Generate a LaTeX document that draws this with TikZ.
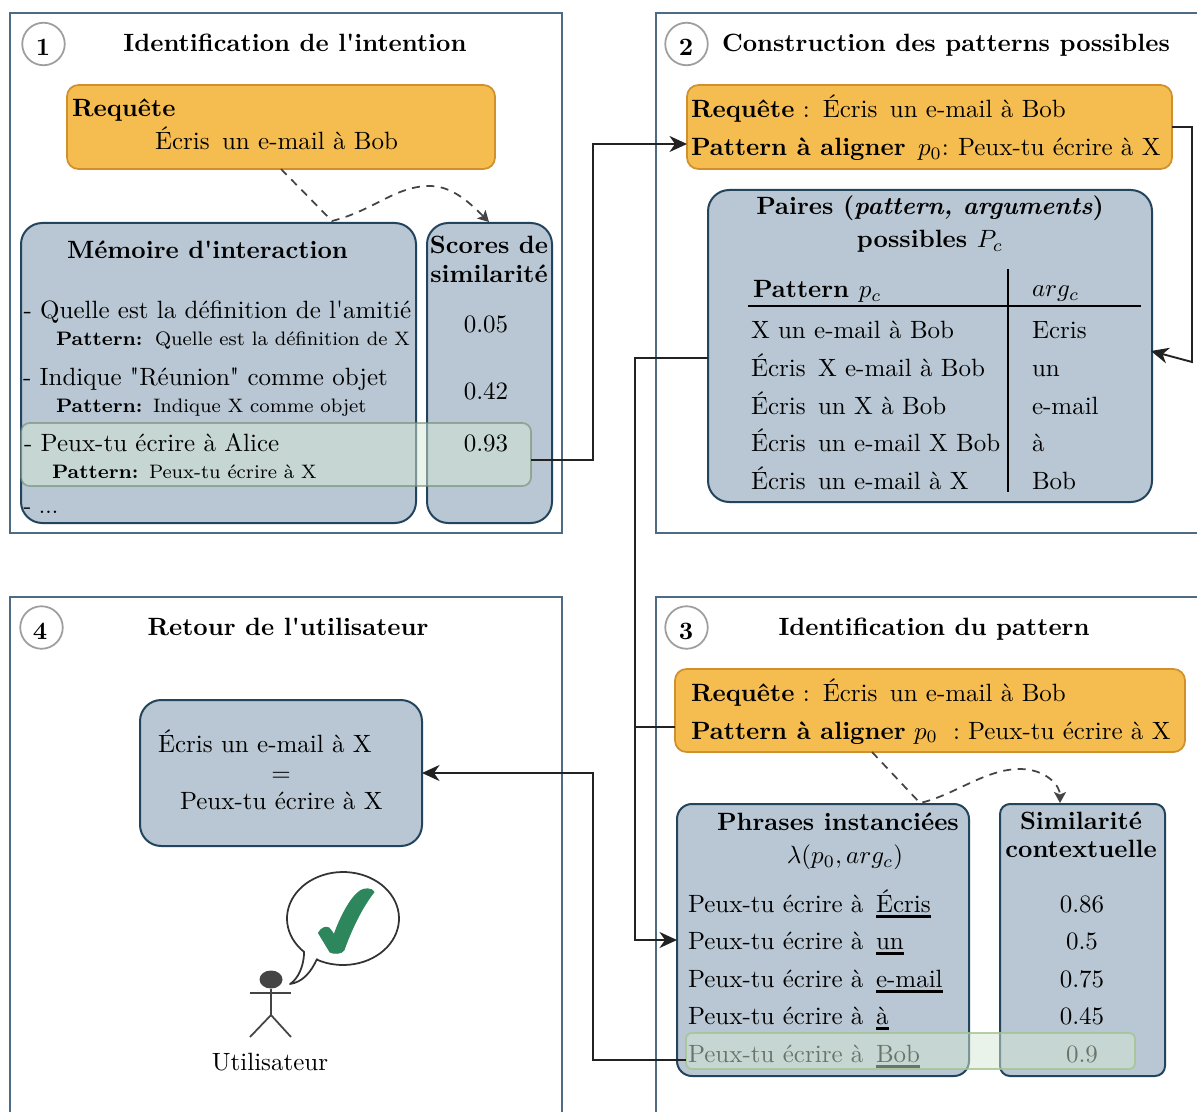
\documentclass[tikz,border=0pt]{standalone}
\usetikzlibrary{arrows.meta,shapes.geometric}
\definecolor{panelc}{HTML}{4F6B83}
\definecolor{orf}{HTML}{F5BD50}
\definecolor{ord}{HTML}{D1902C}
\definecolor{blf}{HTML}{B8C7D3}
\definecolor{bld}{HTML}{23445D}
\definecolor{grayc}{HTML}{9E9E9E}
\definecolor{lnc}{HTML}{222222}
\definecolor{dsh}{HTML}{444444}
\definecolor{gnf}{HTML}{D5E8D4}
\definecolor{chk}{HTML}{2E865C}
\definecolor{ovad}{HTML}{6F8A70}
\definecolor{ovbd}{HTML}{A3C490}
\newcommand{\boxn}[6]{%
  \pgfmathsetmacro\bxcx{(#3+#5)/2}\pgfmathsetmacro\bxcy{(#4+#6)/2}%
  \pgfmathsetmacro\bxw{(#5-#3)*0.4}\pgfmathsetmacro\bxh{(#6-#4)*0.4}%
  \node[#2,minimum width=\bxw pt,minimum height=\bxh pt] (#1) at (\bxcx,\bxcy) {};}
\newcommand{\tl}[4]{\node[txl] (#1) at (#2,#3) {#4};}
\newcommand{\tc}[4]{\node[txc] (#1) at (#2,#3) {#4};}
\newcommand{\ul}[1]{\setbox0\hbox{#1}\rlap{\vrule width\wd0 height -1.3pt depth 2.2pt}\box0}
\newcommand{\gp}{\kern1.6pt}
\newcommand{\aq}{\textquotesingle}
\newcommand{\dq}{\textquotedbl}
\newcommand{\smalltxt}{\fontsize{7.8}{9}\selectfont}
\tikzset{
  basebox/.style={inner sep=0pt,outer sep=0pt},
  panel/.style={basebox,rectangle,draw=panelc,line width=0.8pt,fill=white},
  orangebox/.style={basebox,rectangle,rounded corners=4.6pt,draw=ord,line width=0.7pt,fill=orf},
  bluebox/.style={basebox,rectangle,rounded corners=8.5pt,draw=bld,line width=0.8pt,fill=blf},
  blueboxs/.style={basebox,rectangle,rounded corners=6pt,draw=bld,line width=0.8pt,fill=blf},
  blueboxt/.style={basebox,rectangle,rounded corners=4pt,draw=bld,line width=0.8pt,fill=blf},
  overa/.style={basebox,rectangle,rounded corners=3.5pt,draw=ovad,draw opacity=.6,line width=0.7pt,fill=gnf,fill opacity=.5},
  overb/.style={basebox,rectangle,rounded corners=2.4pt,draw=ovbd,draw opacity=.8,line width=0.7pt,fill=gnf,fill opacity=.5},
  stepc/.style={circle,draw=grayc,fill=white,line width=0.7pt,inner sep=0pt,outer sep=0pt,minimum size=17pt},
  txl/.style={inner sep=0pt,outer sep=0pt,anchor=base west},
  txc/.style={inner sep=0pt,outer sep=0pt,anchor=base},
  link/.style={draw=lnc,line width=0.75pt},
  linka/.style={link,-{Stealth[length=7pt,width=6.4pt,inset=2.2pt]}},
  dlink/.style={draw=dsh,line width=0.7pt,dash pattern=on 3.2pt off 2.6pt,-{Stealth[length=4.4pt,width=4.8pt,inset=1pt]}},
}
\begin{document}
\begin{tikzpicture}[x=0.4pt,y=-0.4pt]
\useasboundingbox (0,0) rectangle (1197,1111);
\clip (0,0) rectangle (1197,1111);
% panels
\boxn{p1}{panel}{10}{13}{562}{533}
\boxn{p2}{panel}{656}{13}{1240}{533}
\boxn{p3}{panel}{656}{597}{1240}{1150}
\boxn{p4}{panel}{10}{597}{562}{1150}
\node[stepc] (n1) at (43.5,44) {};
\node[stepc] (n2) at (686.5,44) {};
\node[stepc] (n3) at (686.5,627.5) {};
\node[stepc] (n4) at (41.5,627.5) {};
\tc{s1}{43}{56}{\bfseries 1}
\tc{s2}{686}{56}{\bfseries 2}
\tc{s3}{686}{639}{\bfseries 3}
\tc{s4}{40}{639}{\bfseries 4}
\tc{ti1}{295}{52}{\bfseries Identification de l\aq intention}
\tl{ti2}{722}{52}{\bfseries Construction des patterns possibles}
\tc{ti3}{934}{635}{\bfseries Identification du pattern}
\tc{ti4}{288}{635}{\bfseries Retour de l\aq utilisateur}
% panel 1
\boxn{o1}{orangebox}{67}{85}{495}{169}
\tl{o1a}{72}{117}{\bfseries Requête}
\tl{o1b}{155}{150}{Écris\gp{} un e-mail à Bob}
\boxn{mem}{bluebox}{21}{223}{416}{523}
\boxn{sco}{bluebox}{427}{223}{552}{523}
\coordinate (d1a) at (281,169);
\coordinate (d1b) at (332,221);
\coordinate (d1c) at (489,222);
\draw[dlink] (d1a) -- (d1b) .. controls (375,210) and (395,186) .. (430,186) .. controls (452,186) and (470,203) .. (d1c);
\tl{m0}{67}{259}{\bfseries Mémoire d\aq interaction}
\tc{sc1}{489}{254}{\bfseries Scores de}
\tc{sc2}{489}{283}{\bfseries similarité}
\tl{m1}{23.5}{319}{- Quelle est la définition de l\aq amitié}
\tl{m1p}{56}{345.5}{\smalltxt\bfseries Pattern:}
\tl{m1q}{155}{345.5}{\smalltxt Quelle est la définition de X}
\tl{m2}{23}{385.5}{- Indique \dq Réunion\dq{} comme objet}
\tl{m2p}{56}{412.5}{\smalltxt\bfseries Pattern:}
\tl{m2q}{153}{412.5}{\smalltxt Indique X comme objet}
\tc{v1}{486}{332}{0.05}
\tc{v2}{486}{399}{0.42}
\boxn{g1}{overa}{21}{423}{531}{486}
\tl{m3}{24}{451}{- Peux-tu écrire à Alice}
\tl{m3p}{52}{478}{\smalltxt\bfseries Pattern:}
\tl{m3q}{149}{478}{\smalltxt Peux-tu écrire à X}
\tl{m4}{23.5}{513}{\small - ...}
\tc{v3}{486}{451}{0.93}
% panel 2
\boxn{o2}{orangebox}{687}{85}{1172}{169}
\tl{o2a}{691}{118}{\bfseries Requête\mdseries{} : \kern.8pt Écris\gp{} un e-mail à Bob}
\tl{o2b}{691}{156}{\bfseries Pattern à aligner}
\tl{o2c}{918}{156}{$p_0$:}
\tl{o2d}{958}{156}{Peux-tu écrire à X}
\boxn{pa}{bluebox}{708}{190}{1152}{502}
\tc{pa1}{930}{215}{\bfseries Paires (\textit{pattern, arguments})}
\tc{pa2}{930}{248}{\bfseries possibles $P_c$}
\coordinate (vt) at (1008,269);
\coordinate (vb) at (1008,492);
\coordinate (hl) at (748,306);
\coordinate (hr) at (1141,306);
\draw[black,line width=0.7pt] (vt) -- (vb);
\draw[black,line width=0.7pt] (hl) -- (hr);
\tl{th1}{753}{298}{\bfseries Pattern \mdseries$p_c$}
\tl{th2}{1032}{297}{$arg_c$}
\tl{r1}{751}{339}{X un e-mail à Bob}
\tl{r2}{751}{377}{Écris\gp{} X e-mail à Bob}
\tl{r3}{751}{414}{Écris\gp{} un X à Bob}
\tl{r4}{751}{451}{Écris\gp{} un e-mail X Bob}
\tl{r5}{751}{489}{Écris\gp{} un e-mail à X}
\tl{a1}{1032}{339}{Ecris}
\tl{a2}{1032}{377}{un}
\tl{a3}{1032}{414}{e-mail}
\tl{a4}{1032}{451}{à}
\tl{a5}{1032}{489}{Bob}
% panel 3
\boxn{o3}{orangebox}{675}{669}{1185}{752}
\tl{o3a}{691}{701}{\bfseries Requête\mdseries{} : \kern.8pt Écris\gp{} un e-mail à Bob}
\tl{o3b}{691}{739}{\bfseries Pattern à aligner}
\tl{o3c}{914}{739}{$p_0$}
\tl{o3d}{953}{739}{:}
\tl{o3e}{968}{739}{Peux-tu écrire à X}
\boxn{ph}{blueboxs}{677}{804}{969}{1076}
\boxn{si}{blueboxt}{1000}{804}{1165}{1076}
\coordinate (d3a) at (872,752);
\coordinate (d3b) at (920,803);
\coordinate (d3c) at (1060,803);
\draw[dlink] (d3a) -- (d3b) .. controls (955,795) and (985,769) .. (1020,769) .. controls (1045,769) and (1060,785) .. (d3c);
\tl{ph1}{717}{830.5}{\bfseries Phrases instanciées}
\tc{ph2}{845}{863.5}{$\lambda(p_0, arg_c)$}
\tc{si1}{1081}{829}{\bfseries Similarité}
\tc{si2}{1081}{857}{\bfseries contextuelle}
\tl{q1}{688}{912}{Peux-tu écrire à}
\tl{q2}{688}{949}{Peux-tu écrire à}
\tl{q3}{688}{987}{Peux-tu écrire à}
\tl{q4}{688}{1024}{Peux-tu écrire à}
\tl{q5}{688}{1062}{Peux-tu écrire à}
\tl{u1}{876}{912}{\ul{Écris}}
\tl{u2}{876}{949}{\ul{un}}
\tl{u3}{876}{987}{\ul{e-mail}}
\tl{u4}{876}{1024}{\ul{à}}
\tl{u5}{876}{1062}{\ul{Bob}}
\tc{w1}{1082}{912}{0.86}
\tc{w2}{1082}{949}{0.5}
\tc{w3}{1082}{987}{0.75}
\tc{w4}{1082}{1024}{0.45}
\tc{w5}{1082}{1062}{0.9}
\boxn{g3}{overb}{686}{1033}{1135}{1069}
% panel 4
\boxn{eq}{bluebox}{140}{700}{422}{846}
\tl{e1}{158}{752}{Écris un e-mail à X}
\tc{e2}{281}{781}{=}
\tl{e3}{180}{809}{Peux-tu écrire à X}
% user
\node[ellipse,draw=none,fill=dsh,minimum width=9.2pt,minimum height=7.2pt,inner sep=0pt] (head) at (271,979.5) {};
\coordinate (armL) at (250,993);
\coordinate (armR) at (291,993);
\coordinate (hip) at (271,1015);
\coordinate (legL) at (250,1037);
\coordinate (legR) at (291,1037);
\draw[dsh,line width=0.7pt] (head.south) -- (hip) -- (legL);
\draw[dsh,line width=0.7pt] (hip) -- (legR);
\draw[dsh,line width=0.7pt] (armL) -- (armR);
\tc{usr}{270}{1070}{Utilisateur}
\draw[draw=black!80,line width=0.7pt,fill=white,line join=round]
  plot[domain=118:-226,samples=70] ({343+56*cos(\x)},{918.5+46.5*sin(\x)})
  .. controls (304,966) and (298,979) .. (290,984)
  .. controls (303,982) and (311,972) .. (317,959) -- cycle;
\fill[chk,line join=round,draw=chk,line width=0.4pt]
  (318.5,933) .. controls (321,928) and (326,926) .. (329,928)
  .. controls (331,930) and (333,933) .. (334,935)
  .. controls (340,918) and (350,898) .. (360,891)
  .. controls (364,888) and (372,888) .. (374,892)
  .. controls (362,907) and (351,930) .. (344,950)
  .. controls (342,954) and (333,954) .. (330,952)
  -- cycle;
% connectors
\coordinate (g1out) at (531,460);
\coordinate (o2in) at (687,144);
\coordinate (o2out) at (1172,127);
\coordinate (pain) at (1151,351);
\coordinate (r1c) at (1192,362);
\coordinate (paout) at (708,358);
\coordinate (phin) at (677,940);
\coordinate (o3out) at (675,727);
\coordinate (jn) at (635,727);
\coordinate (g3out) at (686,1060);
\coordinate (eqin) at (422,773);
\draw[linka] (g1out) -- (593,460) -- (593,144) -- (o2in);
\draw[linka] (o2out) -- (1192,127) -- (r1c) -- (pain);
\draw[linka] (paout) -- (635,358) -- (635,940) -- (phin);
\draw[link] (o3out) -- (jn);
\draw[linka] (g3out) -- (593,1060) -- (593,773) -- (eqin);
\end{tikzpicture}
\end{document}
